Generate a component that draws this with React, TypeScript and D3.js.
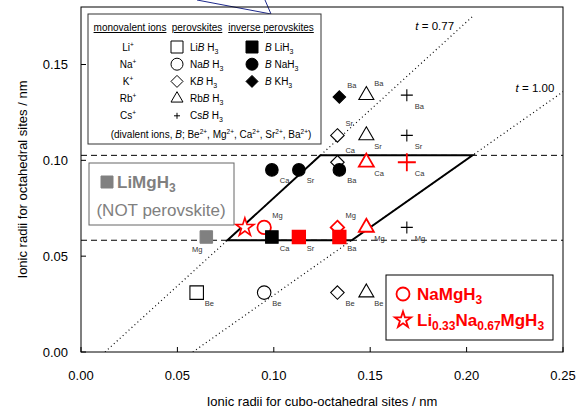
import * as d3 from 'd3'

const W = 576
const H = 409
const FONT = '"Liberation Sans", Arial, sans-serif'

// ionic radii (nm)
const MONO = ['Li', 'Na', 'K', 'Rb', 'Cs']
const MONO_R = [0.060, 0.095, 0.133, 0.148, 0.169]
const DIV = ['Be', 'Mg', 'Ca', 'Sr', 'Ba']
const DIV_R = [0.031, 0.065, 0.099, 0.113, 0.134]

const X_TICKS = [0, 0.05, 0.1, 0.15, 0.2, 0.25]
const Y_TICKS = [0, 0.05, 0.1, 0.15]

// A B H3 perovskites: [A (cubo-octahedral), B (octahedral)]
const PEROVSKITES = [
  ['Li', 'Be'], ['Na', 'Be'], ['Na', 'Mg'],
  ['K', 'Be'], ['K', 'Mg'], ['K', 'Ca'], ['K', 'Sr'],
  ['Rb', 'Be'], ['Rb', 'Mg'], ['Rb', 'Ca'], ['Rb', 'Sr'], ['Rb', 'Ba'],
  ['Cs', 'Mg'], ['Cs', 'Ca'], ['Cs', 'Sr'], ['Cs', 'Ba'],
]
// inverse perovskites B A H3: [B (cubo-octahedral), A (octahedral)]
const INVERSE = [
  ['Ca', 'Li'], ['Sr', 'Li'], ['Ba', 'Li'],
  ['Ca', 'Na'], ['Sr', 'Na'], ['Ba', 'Na'],
  ['Ba', 'K'],
]
const NOT_PEROVSKITE = ['Mg', 'Li'] // LiMgH3
const MIXED_X = 0.085 // Li0.33Na0.67MgH3
const MIXED_B = 'Mg'

const HIGHLIGHT = ['Na-Mg', 'K-Mg', 'Rb-Mg', 'Rb-Ca', 'Cs-Ca', 'Sr-Li', 'Ba-Li']
const LABEL_ABOVE = ['Na-Mg', 'K-Mg', 'K-Ca', 'K-Sr', 'Rb-Ba', 'Ba-K']

const T_LINES = [0.77, 1.0]
const R_H = 0.14
const RB_LIMITS = [0.0583, 0.1026]

const SHAPE: Record<string, string> = { Li: 'square', Na: 'circle', K: 'diamond', Rb: 'triangle', Cs: 'plus' }
const RED = '#ff0000'

const rad = (ion: string) => MONO_R[MONO.indexOf(ion)] ?? DIV_R[DIV.indexOf(ion)]
const tolX = (t: number, rb: number) => t * Math.SQRT2 * (rb + R_H) - R_H

function shapePath(kind: string, s: number) {
  const r = s / 2
  if (kind === 'square') return d3.symbol(d3.symbolSquare, s * s)()
  if (kind === 'circle') return d3.symbol(d3.symbolCircle, Math.PI * r * r)()
  if (kind === 'diamond') return `M0,${-r}L${r},0L0,${r}L${-r},0Z`
  if (kind === 'triangle') return d3.symbol(d3.symbolTriangle, (Math.sqrt(3) / 4) * s * s)()
  if (kind === 'star') return d3.symbol(d3.symbolStar, (r * r) / 0.8908130915292852)()
  return `M${-r},0H${r}M0,${-r}V${r}`
}

function Marker({ kind, x, y, s, filled, color = '#000', sw = 1 }: any) {
  const plus = kind === 'plus'
  return (
    <path
      d={shapePath(kind, s) as string}
      transform={`translate(${x},${y})`}
      fill={plus ? 'none' : filled ? color : '#fff'}
      stroke={color}
      strokeWidth={sw}
    />
  )
}

export default function App() {
  const x = d3.scaleLinear().domain([0, 0.25]).range([81, 563])
  const y = d3.scaleLinear().domain([0, 0.18]).range([352, 7])
  const [x0, x1] = x.range()
  const [y0, y1] = y.range()

  const pts: any[] = []
  PEROVSKITES.forEach(([a, b]) => {
    const key = `${a}-${b}`
    pts.push({ key, x: rad(a), y: rad(b), kind: SHAPE[a], filled: false, label: b })
  })
  INVERSE.forEach(([b, a]) => {
    const key = `${b}-${a}`
    pts.push({ key, x: rad(b), y: rad(a), kind: SHAPE[a], filled: true, label: b })
  })

  const tLine = (t: number) =>
    d3.line<number>().x(rb => x(tolX(t, rb))).y(rb => y(rb))([0, 0.1755])
  const para = d3.line<number[]>().x(d => x(tolX(d[0], d[1]))).y(d => y(d[1]))([
    [T_LINES[0], RB_LIMITS[0]], [T_LINES[1], RB_LIMITS[0]],
    [T_LINES[1], RB_LIMITS[1]], [T_LINES[0], RB_LIMITS[1]],
  ]) + 'Z'

  const sup = (t: string) => <tspan dy={-4} fontSize={6.5}>{t}</tspan>
  const legendRows = MONO.map((m, i) => ({ m, ry: 47 + i * 17.2 }))

  return (
    <svg width={W} height={H} style={{ position: 'absolute', left: 0, top: 0, fontFamily: FONT }}>
      <defs>
        <clipPath id="plot">
          <rect x={x0} y={y1} width={x1 - x0} height={y0 - y1} />
        </clipPath>
      </defs>
      <rect width={W} height={H} fill="#fff" />

      {/* callout lines from the figure above */}
      <path d="M197,0L271,14L265,0" fill="none" stroke="#1f2a8c" strokeWidth={1} />

      <g clipPath="url(#plot)">
        {RB_LIMITS.map(v => (
          <line key={v} x1={x0} x2={x1} y1={y(v)} y2={y(v)} stroke="#000" strokeDasharray="6,4" />
        ))}
        {T_LINES.map(t => (
          <path key={t} d={tLine(t) as string} fill="none" stroke="#000" strokeWidth={1.2} strokeDasharray="1,3" />
        ))}
        <path d={para} fill="none" stroke="#000" strokeWidth={2} strokeLinejoin="miter" />
      </g>

      <text x={x(0.1935)} y={y(0.168)} fontSize={11.5} textAnchor="end">
        <tspan fontStyle="italic">t</tspan> = 0.77
      </text>
      <text x={x(0.2455)} y={y(0.1355)} fontSize={11.5} textAnchor="end">
        <tspan fontStyle="italic">t</tspan> = 1.00
      </text>

      {/* frame + axes */}
      <rect x={x0} y={y1} width={x1 - x0} height={y0 - y1} fill="none" stroke="#000" />
      {X_TICKS.map(v => (
        <g key={v}>
          <line x1={x(v)} x2={x(v)} y1={y0} y2={y0 - 5} stroke="#000" />
          <text x={x(v)} y={y0 + 28} fontSize={13} textAnchor="middle">{d3.format('.2f')(v)}</text>
        </g>
      ))}
      {Y_TICKS.map(v => (
        <g key={v}>
          <line x1={x0} x2={x0 + 5} y1={y(v)} y2={y(v)} stroke="#000" />
          <text x={x0 - 13} y={y(v) + 4.5} fontSize={13} textAnchor="end">{d3.format('.2f')(v)}</text>
        </g>
      ))}
      <text x={(x0 + x1) / 2} y={406} fontSize={13} textAnchor="middle">Ionic radii for cubo-octahedral sites / nm</text>
      <text transform={`translate(27,${(y0 + y1) / 2}) rotate(-90)`} fontSize={13} textAnchor="middle">
        Ionic radii for octahedral sites / nm
      </text>

      {/* data points */}
      {pts.map(p => {
        const hi = HIGHLIGHT.includes(p.key)
        const color = hi ? RED : '#000'
        const cx = x(p.x), cy = y(p.y)
        const above = LABEL_ABOVE.includes(p.key)
        const s = p.kind === 'plus' ? (hi ? 18 : 12) : p.filled ? 12.5 : p.kind === 'triangle' ? 15 : 13.5
        return (
          <g key={p.key}>
            <Marker kind={p.kind} x={cx} y={cy} s={s} filled={p.filled} color={color} sw={hi ? 1.8 : 1.1} />
            <text x={cx + 8} y={above ? cy - 9.5 : cy + 13.5} fontSize={7.5} fill="#333">{p.label}</text>
          </g>
        )
      })}
      <Marker kind="square" x={x(rad(NOT_PEROVSKITE[0]))} y={y(rad(NOT_PEROVSKITE[1]))} s={12.5} filled color="#808080" sw={1} />
      <text x={x(rad(NOT_PEROVSKITE[0])) - 4} y={y(rad(NOT_PEROVSKITE[1])) + 15} fontSize={7.5} fill="#333" textAnchor="end">
        {NOT_PEROVSKITE[0]}
      </text>
      <Marker kind="star" x={x(MIXED_X)} y={y(rad(MIXED_B))} s={19} color={RED} sw={1.6} />

      {/* legend: ion types */}
      <rect x={88} y={14} width={233} height={130} fill="#fff" stroke="#333" />
      <g fontSize={10} textAnchor="middle">
        <text x={130} y={31} textDecoration="underline">monovalent ions</text>
        <text x={197} y={31} textDecoration="underline">perovskites</text>
        <text x={271} y={31} textDecoration="underline">inverse perovskites</text>
      </g>
      {legendRows.map(({ m, ry }, i) => (
        <g key={m} fontSize={10}>
          <text x={128} y={ry + 3.5} textAnchor="middle">{m}{sup('+')}</text>
          <Marker kind={SHAPE[m]} x={177} y={ry} s={m === 'Cs' ? 6 : 12} filled={false} />
          <text x={190} y={ry + 3.5}>
            {m}<tspan fontStyle="italic">B</tspan> H<tspan dy={3} fontSize={7}>3</tspan>
          </text>
          {i < 3 && (
            <>
              <Marker kind={SHAPE[m]} x={252} y={ry} s={12} filled />
              <text x={265} y={ry + 3.5}>
                <tspan fontStyle="italic">B</tspan> {m}H<tspan dy={3} fontSize={7}>3</tspan>
              </text>
            </>
          )}
        </g>
      ))}
      <text x={211} y={138} fontSize={10} textAnchor="middle">
        (divalent ions, <tspan fontStyle="italic">B</tspan>; Be{sup('2+')}
        <tspan dy={4}>, Mg</tspan>{sup('2+')}<tspan dy={4}>, Ca</tspan>{sup('2+')}
        <tspan dy={4}>, Sr</tspan>{sup('2+')}<tspan dy={4}>, Ba</tspan>{sup('2+')}<tspan dy={4}>)</tspan>
      </text>

      {/* legend: LiMgH3 */}
      <rect x={89} y={163} width={145} height={62} fill="#fff" stroke="#666" />
      <Marker kind="square" x={107} y={182} s={12} filled color="#808080" />
      <text x={117} y={188} fontSize={17} fontWeight="bold" fill="#808080">
        LiMgH<tspan dy={4} fontSize={12}>3</tspan>
      </text>
      <text x={161} y={216} fontSize={17} fill="#808080" textAnchor="middle">(NOT perovskite)</text>

      {/* legend: studied compounds */}
      <rect x={386} y={275} width={167} height={65} fill="#fff" stroke="#000" />
      <Marker kind="circle" x={403} y={294} s={13} color={RED} sw={1.8} />
      <text x={417} y={300} fontSize={17} fontWeight="bold" fill={RED}>
        NaMgH<tspan dy={4} fontSize={12}>3</tspan>
      </text>
      <Marker kind="star" x={403} y={320} s={17} color={RED} sw={1.8} />
      <text x={417} y={326} fontSize={17} fontWeight="bold" fill={RED}>
        Li<tspan dy={4} fontSize={12}>0.33</tspan><tspan dy={-4}>Na</tspan><tspan dy={4} fontSize={12}>0.67</tspan>
        <tspan dy={-4}>MgH</tspan><tspan dy={4} fontSize={12}>3</tspan>
      </text>
    </svg>
  )
}
